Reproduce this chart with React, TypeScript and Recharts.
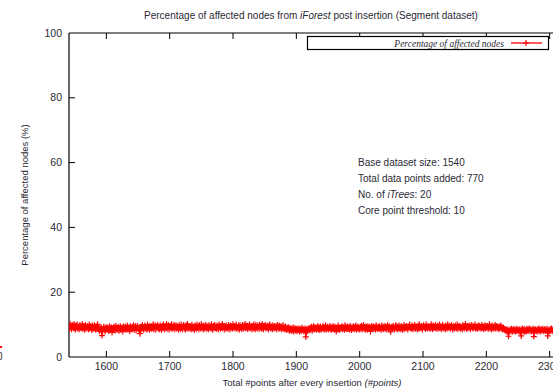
import { LineChart, Line, XAxis, YAxis } from "recharts";

// x = 1541 .. 2310 (one point per inserted point), values in tenths of a percent
const startPoint = 1541;
const affectedTenths = `
96 88 101 92 86 99 94 89 102 90
85 97 91 100 88 93 86 98 90 95
89 102 87 94 91 84 99 92 88 96
93 86 100 89 95 90 83 97 92 87
98 90 85 94 88 101 86 92 80 89
84 91 66 78 88 93 85 79 90 86
92 84 88 80 95 87 83 91 76 89
85 93 88 82 96 86 90 84 92 81
89 95 83 88 91 79 94 87 86 93
84 90 97 85 89 92 80 95 88 86
93 87 98 84 91 95 82 90 96 88
85 92 72 89 94 86 99 90 84 93
97 88 91 85 100 89 93 84 96 90
87 95 89 101 86 92 97 85 94 90
99 88 93 86 97 91 84 96 89 100
92 86 95 90 102 87 93 98 85 91
96 89 101 87 94 90 99 86 93 97
88 95 90 84 98 92 87 100 91 86
94 99 88 92 85 97 90 102 87 93
89 96 91 86 99 88 94 90 83 97
92 87 100 90 95 86 98 91 88 101
90 94 85 97 89 92 99 87 95 90
86 98 91 93 88 101 90 84 96 92
99 89 94 87 97 91 86 100 92 88
95 90 102 88 93 96 85 91 98 89
93 87 99 92 86 97 90 95 88 101
91 96 88 94 100 87 92 89 97 85
98 90 93 86 99 91 88 95 102 89
92 97 87 94 90 100 88 93 96 86
95 89 101 91 86 98 92 88 97 93
87 99 90 95 88 102 91 86 96 92
99 88 94 90 97 86 93 100 89 95
91 86 98 92 88 96 90 94 85 99
93 89 97 87 92 95 86 90 98 88
91 85 94 88 83 90 86 92 81 89
84 88 80 86 91 79 85 89 82 87
80 86 83 89 78 84 87 81 90 83
86 79 84 88 62 82 87 80 85 89
83 90 86 93 81 88 95 85 91 87
92 84 89 96 86 91 83 94 88 85
90 95 87 92 84 98 89 86 93 88
85 91 96 88 83 92 87 95 90 84
93 88 79 91 86 97 89 84 92 87
90 95 86 89 93 84 98 88 91 86
94 87 92 85 96 90 83 91 88 95
86 92 89 97 84 90 94 87 91 85
93 88 96 86 91 99 87 92 85 94
89 84 95 90 87 93 79 88 96 91
86 94 89 92 85 98 90 87 93 88
95 87 91 84 97 89 93 86 90 96
88 92 85 99 90 86 94 89 78 91
93 87 96 90 85 92 98 88 94 86
90 97 88 93 86 95 89 84 92 99
87 93 90 96 88 85 94 91 100 89
92 88 97 86 93 90 99 87 94 91
86 95 89 101 88 93 90 96 85 92
98 90 94 87 100 91 88 96 92 89
95 88 101 92 86 97 90 94 89 99
91 87 96 93 88 100 90 95 86 92
99 89 94 91 86 97 92 88 101 90
93 96 87 92 99 90 85 95 91 88
97 92 89 100 87 94 90 96 88 93
90 86 98 91 95 88 102 92 87 96
89 94 91 97 86 93 99 90 88 95
92 100 88 94 90 87 97 91 96 89
93 88 99 90 95 86 92 98 89 94
90 96 87 93 101 89 92 86 97 91
88 95 90 99 87 93 96 89 92 86
94 90 97 88 92 85 90 87 83 86
80 84 78 86 64 82 79 85 81 87
78 83 86 80 84 79 87 82 85 80
84 79 86 81 65 83 88 80 85 78
86 82 79 87 83 80 85 88 81 84
79 85 82 87 63 84 80 86 82 79
85 81 88 83 79 86 82 84 87 80
83 86 80 85 81 87 65 82 84 79
86 82 88 80 84 81 87 83 85 82
`;

const xTicks = [1600, 1700, 1800, 1900, 2000, 2100, 2200, 2300];
const yTicks = [0, 20, 40, 60, 80, 100];
const infoLines = [
  "Base dataset size: 1540",
  "Total data points added: 770",
  "No. of iTrees: 20",
  "Core point threshold: 10",
];

const data = affectedTenths
  .trim()
  .split(/\s+/)
  .map((v, i) => ({ points: startPoint + i, pct: Number(v) / 10 }));

const font = "'Liberation Sans', Arial, Helvetica, sans-serif";
const ink = "#2a2a35";

function PlusDot(props: any) {
  const { cx, cy } = props;
  if (cx == null || cy == null) return null;
  return (
    <path
      d={`M${cx - 3},${cy}H${cx + 3}M${cx},${cy - 3}V${cy + 3}`}
      stroke="#ff0000"
      strokeWidth={1.2}
      fill="none"
    />
  );
}

function BottomTick({ x, y, payload }: any) {
  return (
    <g>
      <line x1={x} x2={x} y1={y} y2={y - 6} stroke="#000" />
      <text x={x} y={y + 13} textAnchor="middle" fontSize={10.5} fontFamily={font} fill={ink}>
        {payload.value}
      </text>
    </g>
  );
}

function TopTick({ x, y }: any) {
  return <line x1={x} x2={x} y1={y} y2={y + 6} stroke="#000" />;
}

function LeftTick({ x, y, payload }: any) {
  return (
    <g>
      {payload.value > 0 && payload.value < 100 && (
        <line x1={x} x2={x + 6} y1={y} y2={y} stroke="#000" />
      )}
      <text x={x - 7} y={y + 3.5} textAnchor="end" fontSize={10.5} fontFamily={font} fill={ink}>
        {payload.value}
      </text>
    </g>
  );
}

export default function App() {
  return (
    <div
      style={{
        position: "fixed",
        left: 0,
        top: 0,
        width: 553,
        height: 391,
        overflow: "hidden",
        background: "#fff",
      }}
    >
      <LineChart
        width={600}
        height={391}
        data={data}
        margin={{ top: 28, right: 44, bottom: 4, left: 9 }}
      >
        <XAxis
          dataKey="points"
          type="number"
          domain={[1541, 2310]}
          ticks={xTicks}
          allowDataOverflow
          height={30}
          tickLine={false}
          tickSize={0}
          tickMargin={0}
          axisLine={{ stroke: "#000", strokeWidth: 1.2 }}
          tick={<BottomTick />}
        />
        <XAxis
          xAxisId="top"
          orientation="top"
          dataKey="points"
          type="number"
          domain={[1541, 2310]}
          ticks={xTicks}
          allowDataOverflow
          height={5}
          tickLine={false}
          tickSize={0}
          tickMargin={0}
          axisLine={{ stroke: "#000", strokeWidth: 1.2 }}
          tick={<TopTick />}
        />
        <YAxis
          type="number"
          domain={[0, 100]}
          ticks={yTicks}
          width={60}
          tickLine={false}
          tickSize={0}
          tickMargin={0}
          axisLine={{ stroke: "#000", strokeWidth: 1.2 }}
          tick={<LeftTick />}
        />
        <Line
          type="linear"
          dataKey="pct"
          stroke="#ff0000"
          strokeWidth={1.3}
          dot={<PlusDot />}
          activeDot={false}
          isAnimationActive={false}
        />
      </LineChart>

      <svg
        width={553}
        height={391}
        style={{ position: "absolute", left: 0, top: 0, pointerEvents: "none" }}
        fontFamily={font}
        fill={ink}
      >
        <text x={311} y={19} textAnchor="middle" fontSize={10}>
          Percentage of affected nodes from <tspan fontStyle="italic">iForest</tspan> post
          insertion (Segment dataset)
        </text>

        <text x={312} y={386} textAnchor="middle" fontSize={9.5}>
          Total #points after every insertion <tspan fontStyle="italic">(#points)</tspan>
        </text>

        <text
          transform="translate(28,195) rotate(-90)"
          textAnchor="middle"
          fontSize={9.5}
        >
          Percentage of affected nodes (%)
        </text>

        {/* key */}
        <rect x={307.5} y={36.5} width={241} height={13} fill="#fff" stroke="#000" strokeWidth={1.2} />
        <text x={504} y={46.5} textAnchor="end" fontSize={9.5} fontStyle="italic" fontFamily="'Liberation Serif', serif">
          Percentage of affected nodes
        </text>
        <line x1={511} x2={542} y1={43} y2={43} stroke="#ff0000" strokeWidth={1.3} />
        <path d="M523,43H529M526,40V46" stroke="#ff0000" strokeWidth={1.2} />

        {infoLines.map((line, i) => (
          <text key={line} x={358} y={166 + i * 16} fontSize={10}>
            {i === 2 ? (
              <>
                No. of <tspan fontStyle="italic">iTrees</tspan>: 20
              </>
            ) : (
              line
            )}
          </text>
        ))}

        {/* edge of neighbouring panel */}
        <text x={-3} y={360} fontSize={10}>0</text>
        <line x1={0} x2={2} y1={347} y2={347} stroke="#ff0000" strokeWidth={2} />
      </svg>
    </div>
  );
}
